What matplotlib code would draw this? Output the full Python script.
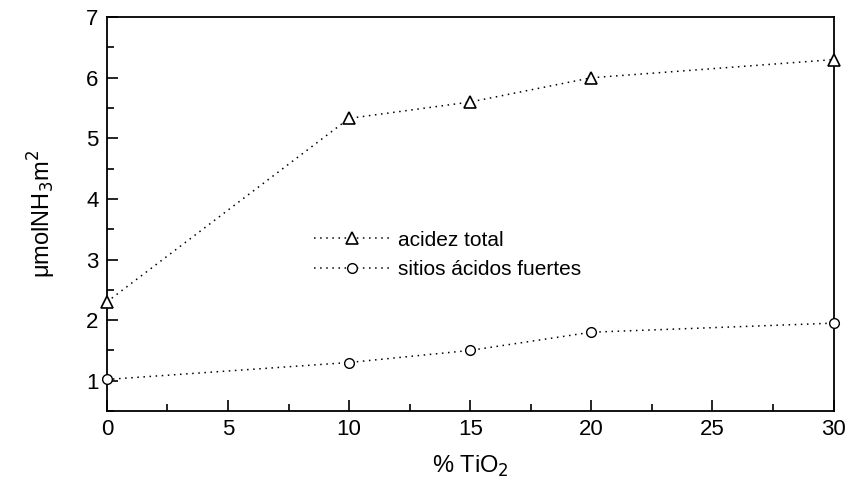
import matplotlib
matplotlib.use("Agg")
import matplotlib.pyplot as plt
from matplotlib.ticker import MultipleLocator

plt.rcParams['font.family'] = ['Liberation Sans', 'DejaVu Sans']

tio2 = [0, 10, 15, 20, 30]
acidez_total = [2.30, 5.33, 5.60, 6.00, 6.30]
sitios_fuertes = [1.02, 1.30, 1.50, 1.80, 1.95]

fig = plt.figure(figsize=(8.48, 4.91), dpi=100)
ax = fig.add_axes([0.126, 0.163, 0.857, 0.802])

ax.plot(tio2, acidez_total, linestyle=(0, (1, 3)), color='black', lw=1.1,
        marker='^', markersize=8, markerfacecolor='white', markeredgecolor='black',
        markeredgewidth=1.2, label='acidez total', clip_on=False, zorder=3)
ax.plot(tio2, sitios_fuertes, linestyle=(0, (1, 3)), color='black', lw=1.1,
        marker='o', markersize=7, markerfacecolor='white', markeredgecolor='black',
        markeredgewidth=1.0, label='sitios ácidos fuertes', clip_on=False, zorder=3)

ax.set_xlim(0, 30)
ax.set_ylim(0.5, 7)
ax.xaxis.set_major_locator(MultipleLocator(5))
ax.xaxis.set_minor_locator(MultipleLocator(2.5))
ax.yaxis.set_major_locator(MultipleLocator(1))
ax.yaxis.set_minor_locator(MultipleLocator(0.5))
ax.tick_params(which='both', direction='in', top=False, right=False,
               labelsize=16, width=1.2)
ax.tick_params(which='major', length=8, pad=6)
ax.tick_params(which='minor', length=5)
for s in ax.spines.values():
    s.set_linewidth(1.3)

ax.set_xlabel('% TiO$_2$', fontsize=17, labelpad=10)
ax.set_ylabel('μmolNH$_3$m$^2$', fontsize=17, labelpad=20)

ax.legend(loc='upper left', bbox_to_anchor=(0.265, 0.495), frameon=False,
          fontsize=15, handlelength=3.6, handletextpad=0.45, labelspacing=0.5,
          borderpad=0.2)

fig.savefig('out.png', dpi=100)
